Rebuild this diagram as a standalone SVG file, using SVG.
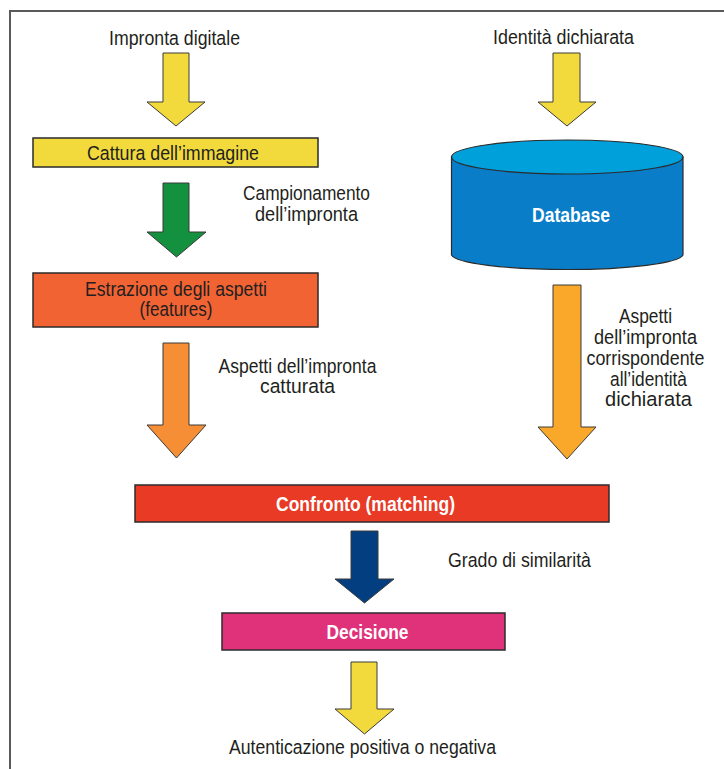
<svg xmlns="http://www.w3.org/2000/svg" width="724" height="769" viewBox="0 0 724 769">
<style>
.t{font-family:"Liberation Sans Narrow","Liberation Sans",Arial,sans-serif;font-size:20.5px;fill:#231f20;text-anchor:middle}
.w{font-family:"Liberation Sans Narrow","Liberation Sans",Arial,sans-serif;font-size:20.5px;font-weight:bold;fill:#ffffff;text-anchor:middle}
.box{stroke:#2b2b2b;stroke-width:1.5}
.arr{stroke:#3a3a3a;stroke-width:1;stroke-linejoin:miter}
</style>
<rect x="10" y="11" width="800" height="800" fill="#ffffff" stroke="#5a5a5a" stroke-width="2"/>

<g id="connectors">
  <polygon class="arr" fill="#f2da3d" points="163,53 189,53 189,102 205,102 176,126 147,102 163,102"/>
  <polygon class="arr" fill="#13913f" points="163,183 189,183 189,232 206,232 176.5,257 147,232 163,232"/>
  <polygon class="arr" fill="#f68e35" points="163,343 189,343 189,425 206,425 176.5,458 147,425 163,425"/>
  <polygon class="arr" fill="#f2da3d" points="553,53 580,53 580,102 596,102 567,126 538,102 553,102"/>
  <polygon class="arr" fill="#faa82a" points="553,285 581,285 581,427 596,427 567,459 538,427 553,427"/>
  <polygon class="arr" fill="#033f80" points="351,531 378,531 378,579 394,579 364.5,603 335,579 351,579"/>
  <polygon class="arr" fill="#f2da3d" points="351,662 377,662 377,709 394,709 364.5,734 335,709 351,709"/>
  <text class="t" x="306.5" y="200" textLength="127" lengthAdjust="spacingAndGlyphs">Campionamento</text>
  <text class="t" x="306.5" y="221" textLength="103" lengthAdjust="spacingAndGlyphs">dell’impronta</text>
  <text class="t" x="297.5" y="372.5" textLength="158" lengthAdjust="spacingAndGlyphs">Aspetti dell’impronta</text>
  <text class="t" x="297.5" y="393" textLength="75" lengthAdjust="spacingAndGlyphs">catturata</text>
  <text class="t" x="645.5" y="323" textLength="53" lengthAdjust="spacingAndGlyphs">Aspetti</text>
  <text class="t" x="645.5" y="344" textLength="103" lengthAdjust="spacingAndGlyphs">dell’impronta</text>
  <text class="t" x="645.5" y="365" textLength="118" lengthAdjust="spacingAndGlyphs">corrispondente</text>
  <text class="t" x="648.5" y="386" textLength="77" lengthAdjust="spacingAndGlyphs">all’identità</text>
  <text class="t" x="648.5" y="406" textLength="87" lengthAdjust="spacingAndGlyphs">dichiarata</text>
  <text class="t" x="519.5" y="566.5" textLength="143" lengthAdjust="spacingAndGlyphs">Grado di similarità</text>
</g>

<g id="input-impronta">
  <text class="t" x="174.5" y="45" textLength="131" lengthAdjust="spacingAndGlyphs">Impronta digitale</text>
</g>
<g id="input-identita">
  <text class="t" x="563.5" y="44" textLength="141" lengthAdjust="spacingAndGlyphs">Identità dichiarata</text>
</g>
<g id="cattura">
  <rect class="box" x="33" y="138" width="285" height="29" fill="#f2da3d"/>
  <text class="t" x="173" y="160" textLength="172" lengthAdjust="spacingAndGlyphs">Cattura dell’immagine</text>
</g>
<g id="estrazione">
  <rect class="box" x="33" y="273" width="285" height="54" fill="#f26333"/>
  <text class="t" x="176" y="295.5" textLength="182" lengthAdjust="spacingAndGlyphs">Estrazione degli aspetti</text>
  <text class="t" x="176" y="315.5" textLength="73" lengthAdjust="spacingAndGlyphs">(features)</text>
</g>
<g id="database">
  <path d="M451.5,157 L451.5,255 A116,15.5 0 0 0 683,255 L683,157 Z" fill="#0a7dc8" stroke="#2b2b2b" stroke-width="1.2"/>
  <ellipse cx="567.25" cy="157" rx="115.75" ry="17" fill="#00a0db" stroke="#2b2b2b" stroke-width="1.2"/>
  <text class="w" x="571" y="221.5" textLength="78" lengthAdjust="spacingAndGlyphs">Database</text>
</g>
<g id="confronto">
  <rect class="box" x="135" y="485" width="474" height="37" fill="#e83a25"/>
  <text class="w" x="365.5" y="510.5" textLength="179" lengthAdjust="spacingAndGlyphs">Confronto (matching)</text>
</g>
<g id="decisione">
  <rect class="box" x="222" y="613" width="283" height="37" fill="#e0327a"/>
  <text class="w" x="367.5" y="639" textLength="82" lengthAdjust="spacingAndGlyphs">Decisione</text>
</g>
<g id="output">
  <text class="t" x="362.5" y="754" textLength="267" lengthAdjust="spacingAndGlyphs">Autenticazione positiva o negativa</text>
</g>
</svg>
